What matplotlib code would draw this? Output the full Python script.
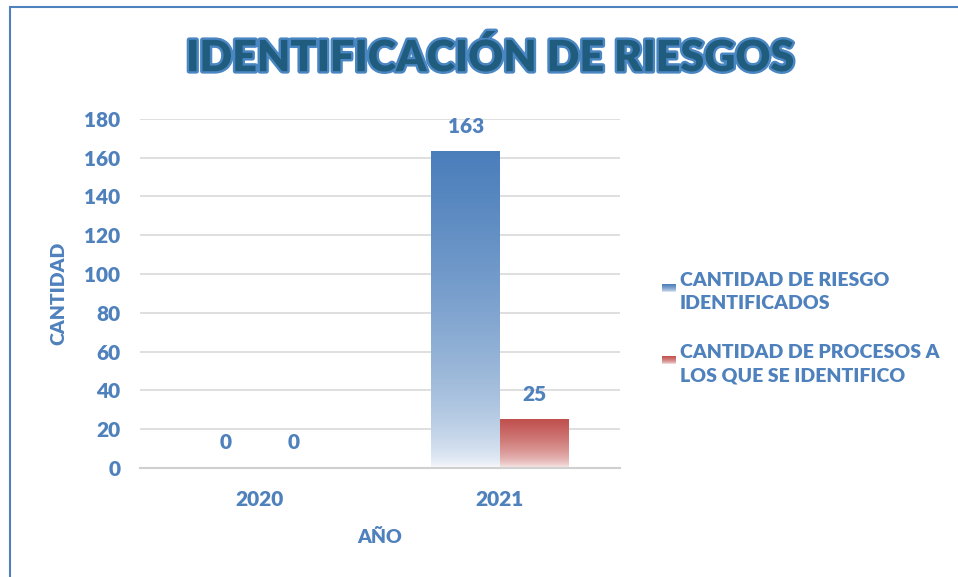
import numpy as np
import matplotlib
matplotlib.use("Agg")
import matplotlib.pyplot as plt
import matplotlib.patheffects as pe
from matplotlib.patches import Rectangle
from matplotlib.colors import to_rgb

years = ["2020", "2021"]
riesgos = [0, 163]
procesos = [0, 25]
series_names = ["CANTIDAD DE RIESGO\nIDENTIFICADOS",
                "CANTIDAD DE PROCESOS A\nLOS QUE SE IDENTIFICO"]
series_colors = ["#4a7ebb", "#c0504d"]

txt = "#4f81bd"
wt = "heavy"
plt.rcParams['font.family'] = ['Lato', 'DejaVu Sans']

fig = plt.figure(figsize=(9.58, 5.77), dpi=100)
ax = fig.add_axes([0.146, 0.189, 0.501, 0.605])


def gradient_img(color, n=256):
    # fraction from bottom -> blend from white to the full colour
    f = np.linspace(0, 1, n)[:, None]
    t = np.clip(f ** 0.5, 0.05, 1)
    c = np.array(to_rgb(color))
    img = (1 - t)[..., None] * 1.0 + t[..., None] * c
    return img


def grad_bar(ax, x, w, h, color):
    if h <= 0:
        return
    ax.imshow(gradient_img(color), extent=[x - w / 2, x + w / 2, 0, h],
              origin="lower", aspect="auto", zorder=2)


width = 0.285
xs = np.arange(len(years))
for i, vals in enumerate([riesgos, procesos]):
    offs = (i - 0.5) * width
    for x, v in zip(xs, vals):
        grad_bar(ax, x + offs, width, v, series_colors[i])
        ax.text(x + offs, v + 8, str(v), ha="center", va="bottom",
                color=txt, fontsize=15, fontweight=wt)

ax.set_xlim(-0.5, 1.5)
ax.set_ylim(0, 180)
ax.set_yticks(range(0, 181, 20))
ax.set_xticks(xs)
ax.set_xticklabels(years)
ax.grid(axis="y", color="#d9d9d9", linewidth=1.2, zorder=0)
ax.set_axisbelow(True)
for s in ["top", "right", "left"]:
    ax.spines[s].set_visible(False)
ax.spines["bottom"].set_color("#d0d0d0")
ax.spines["bottom"].set_linewidth(1.5)
ax.tick_params(length=0, labelsize=15, labelcolor=txt, pad=14)
ax.tick_params(axis="x", pad=16)
for lab in ax.get_xticklabels() + ax.get_yticklabels():
    lab.set_fontweight(wt)

ax.set_ylabel("CANTIDAD", color=txt, fontsize=14, fontweight=wt, labelpad=12)
ax.set_xlabel("AÑO", color=txt, fontsize=14, fontweight=wt, labelpad=14)

# title
fig.text(0.511, 0.9, "IDENTIFICACIÓN DE RIESGOS", ha="center", va="center",
         fontsize=31, fontweight="heavy", color="#1f5c7e",
         path_effects=[pe.withStroke(linewidth=3.5, foreground="#4a86c2")])

# legend
W, H = 958, 577
for i, name in enumerate(series_names):
    ytop = 280 + i * 72
    sax = fig.add_axes([662 / W, 1 - (ytop + 12) / H, 14 / W, 8 / H])
    sax.imshow(gradient_img(series_colors[i]), origin="lower", aspect="auto")
    sax.axis("off")
    fig.text(680 / W, 1 - (ytop - 8) / H, name, ha="left", va="top",
             color=txt, fontsize=14, fontweight=wt, linespacing=1.45)

# frame
fig.patches.append(Rectangle((10 / W, -0.1), 1.2, 1 - 7 / H + 0.1,
                             transform=fig.transFigure, fill=False,
                             edgecolor="#4f81bd", linewidth=1.5))

fig.savefig("out.png", dpi=100)
